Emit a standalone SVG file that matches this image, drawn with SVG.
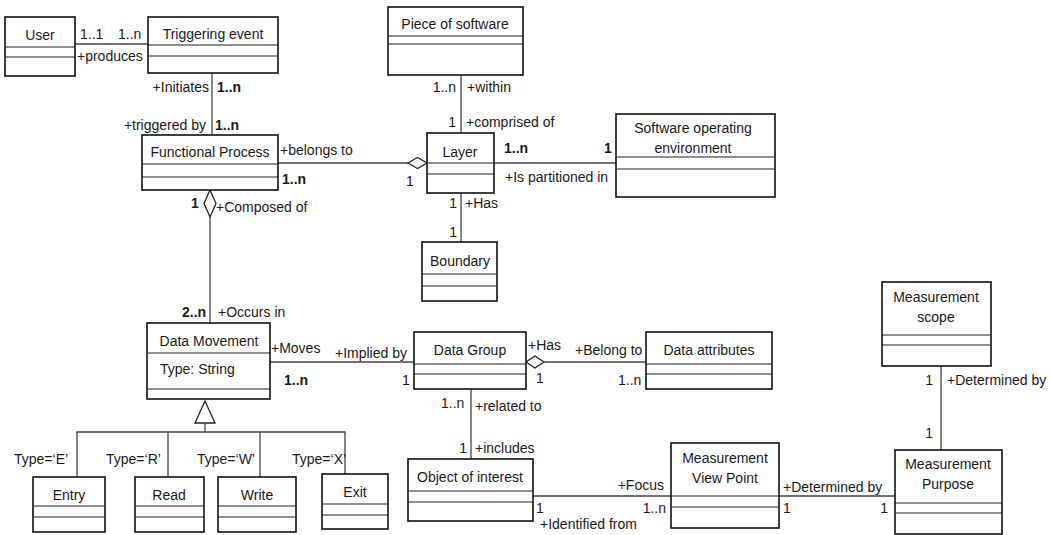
<svg xmlns="http://www.w3.org/2000/svg" width="1050" height="535" viewBox="0 0 1050 535">
  <defs>
    <style>
      text { font-family: "Liberation Sans", Arial, sans-serif; font-size: 14px; fill: #1a1a1a; }
      .c { text-anchor: middle; }
      .e { text-anchor: end; }
      .b { font-weight: bold; }
      .box rect { fill: #fff; stroke: #111; stroke-width: 1.6; }
      .box line { stroke: #222; stroke-width: 1.2; }
      #connectors line, #connectors polyline { stroke: #444; stroke-width: 1.3; fill: none; }
      .agg { fill: #fff; stroke: #222; stroke-width: 1.3; }
    </style>
  </defs>
  <rect width="1050" height="535" fill="#fff"/>

  <!-- associations and generalisation -->
  <g id="connectors">
    <line x1="75" y1="44" x2="148" y2="44"/>
    <line x1="212" y1="73" x2="212" y2="135"/>
    <line x1="278" y1="163" x2="408" y2="163"/>
    <polygon class="agg" points="408,163 417.5,157.5 427,163 417.5,168.5"/>
    <line x1="461" y1="75" x2="461" y2="133"/>
    <line x1="494" y1="163" x2="616" y2="163"/>
    <line x1="461" y1="193" x2="461" y2="242"/>
    <polygon class="agg" points="210,190 216,203.5 210,217 204,203.5"/>
    <line x1="210" y1="217" x2="210" y2="323"/>
    <line x1="270" y1="362" x2="414" y2="362"/>
    <polygon class="agg" points="526,362 535,356 544,362 535,368"/>
    <line x1="544" y1="362" x2="646" y2="362"/>
    <line x1="471" y1="389" x2="471" y2="459"/>
    <line x1="533" y1="496" x2="671" y2="496"/>
    <line x1="779" y1="496" x2="895" y2="496"/>
    <line x1="941" y1="366" x2="941" y2="450"/>
    <!-- generalisation tree -->
    <polygon class="agg" points="205,401 215,423 195,423"/>
    <line x1="205" y1="423" x2="205" y2="432"/>
    <polyline points="77,477 77,432 345,432 345,474"/>
    <line x1="168" y1="432" x2="168" y2="477"/>
    <line x1="260" y1="432" x2="260" y2="477"/>
  </g>

  <!-- association end labels -->
  <g id="labels">
    <text x="80" y="39">1..1</text>
    <text x="118" y="39">1..n</text>
    <text x="77" y="61">+produces</text>
    <text class="e" x="209" y="92">+Initiates</text>
    <text class="b" x="217" y="92">1..n</text>
    <text class="e" x="206" y="130">+triggered by</text>
    <text class="b" x="215" y="130">1..n</text>
    <text x="280" y="155">+belongs to</text>
    <text class="b" x="282" y="184">1..n</text>
    <text x="406" y="186">1</text>
    <text class="e" x="456" y="92">1..n</text>
    <text x="467" y="92">+within</text>
    <text class="e" x="456" y="127">1</text>
    <text x="466" y="127">+comprised of</text>
    <text class="b" x="504" y="153">1..n</text>
    <text class="b" x="604" y="153">1</text>
    <text x="505" y="182">+Is partitioned in</text>
    <text class="e" x="457" y="208">1</text>
    <text x="465" y="208">+Has</text>
    <text class="e" x="457" y="237">1</text>
    <text class="b" x="191" y="208">1</text>
    <text x="216" y="212">+Composed of</text>
    <text class="b" x="182" y="317">2..n</text>
    <text x="218" y="317">+Occurs in</text>
    <text x="271" y="353">+Moves</text>
    <text x="335" y="358">+Implied by</text>
    <text class="b" x="284" y="385">1..n</text>
    <text x="402" y="385">1</text>
    <text x="528" y="350">+Has</text>
    <text x="536" y="383">1</text>
    <text x="575" y="355">+Belong to</text>
    <text x="618" y="385">1..n</text>
    <text x="441" y="408">1..n</text>
    <text x="475" y="411">+related to</text>
    <text class="e" x="467" y="453">1</text>
    <text x="475" y="453">+includes</text>
    <text x="536" y="513">1</text>
    <text x="540" y="529">+Identified from</text>
    <text class="e" x="664" y="490">+Focus</text>
    <text class="e" x="666" y="513">1..n</text>
    <text x="783" y="492">+Determined by</text>
    <text x="783" y="513">1</text>
    <text class="e" x="888" y="513">1</text>
    <text class="e" x="933" y="385">1</text>
    <text x="947" y="385">+Determined by</text>
    <text class="e" x="933" y="438">1</text>
    <text x="14" y="464">Type=‘E’</text>
    <text x="106" y="464">Type=‘R’</text>
    <text x="197" y="464">Type=‘W’</text>
    <text x="292" y="464">Type=‘X’</text>
  </g>

  <!-- classes -->
  <g id="user" class="box">
    <rect x="5" y="17" width="70" height="59"/>
    <line x1="5" y1="47" x2="75" y2="47"/><line x1="5" y1="57" x2="75" y2="57"/>
    <text class="c" x="40" y="40">User</text>
  </g>
  <g id="triggering-event" class="box">
    <rect x="148" y="17" width="130" height="56"/>
    <line x1="148" y1="45" x2="278" y2="45"/><line x1="148" y1="56" x2="278" y2="56"/>
    <text class="c" x="213" y="39">Triggering event</text>
  </g>
  <g id="functional-process" class="box">
    <rect x="142" y="135" width="136" height="55"/>
    <line x1="142" y1="164" x2="278" y2="164"/><line x1="142" y1="177" x2="278" y2="177"/>
    <text class="c" x="210" y="157">Functional Process</text>
  </g>
  <g id="piece-of-software" class="box">
    <rect x="388" y="7" width="135" height="68"/>
    <line x1="388" y1="36" x2="523" y2="36"/><line x1="388" y1="44" x2="523" y2="44"/>
    <text class="c" x="455" y="29">Piece of software</text>
  </g>
  <g id="layer" class="box">
    <rect x="427" y="133" width="67" height="60"/>
    <line x1="427" y1="163" x2="494" y2="163"/><line x1="427" y1="174" x2="494" y2="174"/>
    <text class="c" x="460" y="157">Layer</text>
  </g>
  <g id="software-operating-environment" class="box">
    <rect x="616" y="114" width="159" height="83"/>
    <line x1="616" y1="157" x2="775" y2="157"/><line x1="616" y1="169" x2="775" y2="169"/>
    <text class="c" x="693" y="133">Software operating</text>
    <text class="c" x="693" y="153">environment</text>
  </g>
  <g id="boundary" class="box">
    <rect x="422" y="242" width="75" height="59"/>
    <line x1="422" y1="274" x2="497" y2="274"/><line x1="422" y1="286" x2="497" y2="286"/>
    <text class="c" x="460" y="266">Boundary</text>
  </g>
  <g id="data-movement" class="box">
    <rect x="147" y="323" width="123" height="76"/>
    <line x1="147" y1="353" x2="270" y2="353"/><line x1="147" y1="389" x2="270" y2="389"/>
    <text class="c" x="209" y="346">Data Movement</text>
    <text x="160" y="374">Type: String</text>
  </g>
  <g id="data-group" class="box">
    <rect x="414" y="332" width="112" height="57"/>
    <line x1="414" y1="364" x2="526" y2="364"/><line x1="414" y1="374" x2="526" y2="374"/>
    <text class="c" x="470" y="355">Data Group</text>
  </g>
  <g id="data-attributes" class="box">
    <rect x="646" y="332" width="126" height="57"/>
    <line x1="646" y1="364" x2="772" y2="364"/><line x1="646" y1="374" x2="772" y2="374"/>
    <text class="c" x="709" y="355">Data attributes</text>
  </g>
  <g id="object-of-interest" class="box">
    <rect x="408" y="459" width="125" height="62"/>
    <line x1="408" y1="491" x2="533" y2="491"/><line x1="408" y1="502" x2="533" y2="502"/>
    <text class="c" x="470" y="482">Object of interest</text>
  </g>
  <g id="measurement-view-point" class="box">
    <rect x="671" y="443" width="108" height="85"/>
    <line x1="671" y1="496" x2="779" y2="496"/><line x1="671" y1="507" x2="779" y2="507"/>
    <text class="c" x="725" y="463">Measurement</text>
    <text class="c" x="725" y="483">View Point</text>
  </g>
  <g id="measurement-scope" class="box">
    <rect x="882" y="282" width="109" height="84"/>
    <line x1="882" y1="335" x2="991" y2="335"/><line x1="882" y1="345" x2="991" y2="345"/>
    <text class="c" x="936" y="302">Measurement</text>
    <text class="c" x="936" y="322">scope</text>
  </g>
  <g id="measurement-purpose" class="box">
    <rect x="895" y="450" width="107" height="84"/>
    <line x1="895" y1="503" x2="1002" y2="503"/><line x1="895" y1="513" x2="1002" y2="513"/>
    <text class="c" x="948" y="469">Measurement</text>
    <text class="c" x="948" y="489">Purpose</text>
  </g>
  <g id="entry" class="box">
    <rect x="33" y="477" width="72" height="55"/>
    <line x1="33" y1="506" x2="105" y2="506"/><line x1="33" y1="517" x2="105" y2="517"/>
    <text class="c" x="69" y="500">Entry</text>
  </g>
  <g id="read" class="box">
    <rect x="135" y="477" width="69" height="55"/>
    <line x1="135" y1="506" x2="204" y2="506"/><line x1="135" y1="517" x2="204" y2="517"/>
    <text class="c" x="169" y="500">Read</text>
  </g>
  <g id="write" class="box">
    <rect x="218" y="477" width="78" height="55"/>
    <line x1="218" y1="506" x2="296" y2="506"/><line x1="218" y1="517" x2="296" y2="517"/>
    <text class="c" x="257" y="500">Write</text>
  </g>
  <g id="exit" class="box">
    <rect x="322" y="474" width="66" height="55"/>
    <line x1="322" y1="504" x2="388" y2="504"/><line x1="322" y1="515" x2="388" y2="515"/>
    <text class="c" x="355" y="497">Exit</text>
  </g>
</svg>
